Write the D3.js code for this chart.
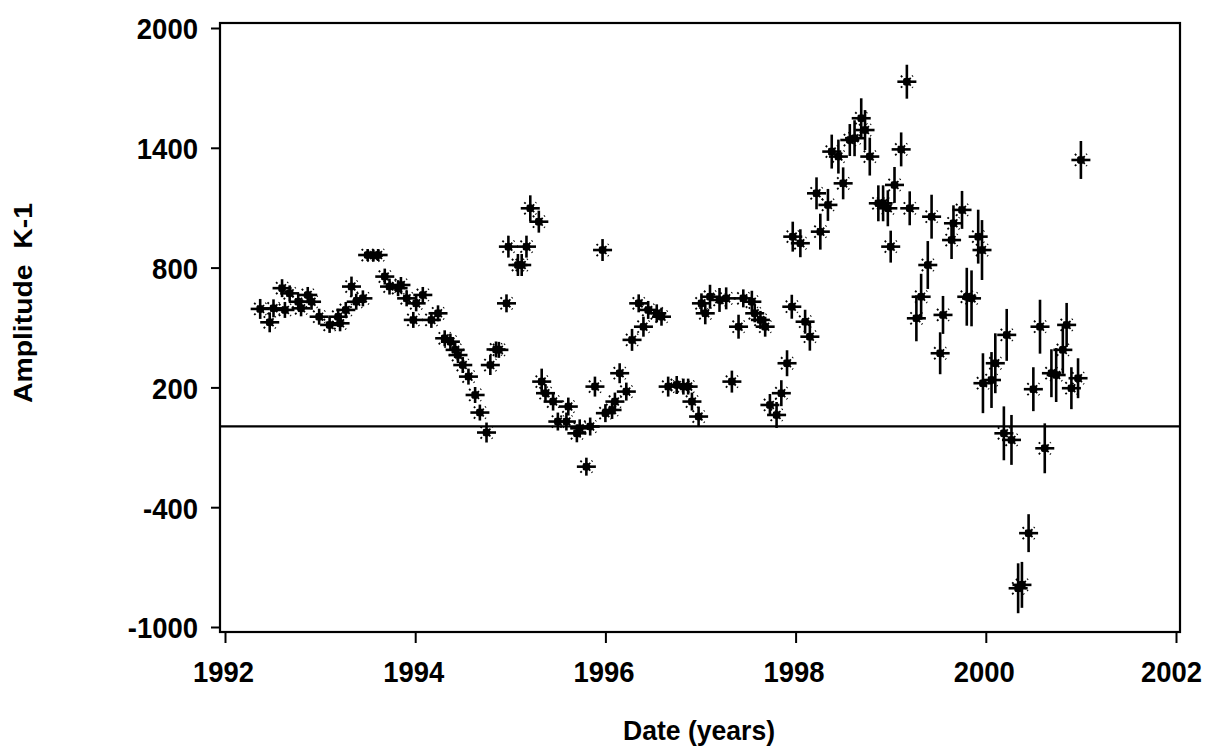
<!DOCTYPE html>
<html>
<head>
<meta charset="utf-8">
<script src="https://cdn.jsdelivr.net/npm/d3@7"></script>
<style>
  body { margin: 0; background: #fff; }
  svg { display: block; }
  text { font-family: "Liberation Sans", Arial, sans-serif; font-weight: bold; fill: #000; }
</style>
</head>
<body>
<svg id="chart"></svg>
<script>
// Observation dates (decimal years)
const years = [
  1992.37, 1992.47, 1992.51, 1992.60, 1992.63, 1992.68, 1992.77, 1992.80, 1992.87, 1992.91,
  1992.99, 1993.10, 1993.19, 1993.21, 1993.27, 1993.33, 1993.38, 1993.45, 1993.50, 1993.56,
  1993.61, 1993.68, 1993.73, 1993.82, 1993.85, 1993.91, 1993.98, 1994.01, 1994.08, 1994.17,
  1994.24, 1994.31, 1994.37, 1994.42, 1994.45, 1994.50, 1994.56, 1994.63, 1994.68, 1994.75,
  1994.79, 1994.85, 1994.88, 1994.96, 1994.98, 1995.08, 1995.12, 1995.17, 1995.21, 1995.30,
  1995.33, 1995.37, 1995.45, 1995.50, 1995.59, 1995.61, 1995.70, 1995.73, 1995.80, 1995.84,
  1995.89, 1995.97, 1996.00, 1996.07, 1996.10, 1996.15, 1996.22, 1996.28, 1996.35, 1996.40,
  1996.45, 1996.54, 1996.59, 1996.66, 1996.75, 1996.82, 1996.87, 1996.91, 1996.98, 1997.01,
  1997.05, 1997.10, 1997.20, 1997.27, 1997.33, 1997.40, 1997.45, 1997.54, 1997.57, 1997.63,
  1997.68, 1997.73, 1997.80, 1997.85, 1997.91, 1997.96, 1997.97, 1998.05, 1998.10, 1998.15,
  1998.22, 1998.26, 1998.34, 1998.38, 1998.45, 1998.50, 1998.57, 1998.62, 1998.69, 1998.73,
  1998.78, 1998.87, 1998.92, 1998.97, 1999.00, 1999.04, 1999.11, 1999.17, 1999.20, 1999.27,
  1999.32, 1999.39, 1999.43, 1999.52, 1999.55, 1999.64, 1999.66, 1999.75, 1999.80, 1999.85,
  1999.92, 1999.96, 1999.97, 2000.06, 2000.10, 2000.19, 2000.22, 2000.27, 2000.34, 2000.38,
  2000.45, 2000.50, 2000.57, 2000.62, 2000.69, 2000.74, 2000.81, 2000.85, 2000.90, 2000.97,
  2001.00
];

// Amplitude K-1
const amplitude = [
  593, 526, 596, 697, 588, 671, 629, 596, 663, 629,
  554, 513, 554, 521, 588, 705, 629, 646, 863, 860,
  863, 755, 705, 697, 713, 646, 538, 621, 663, 538,
  571, 446, 429, 388, 362, 312, 254, 162, 74, -26,
  312, 390, 388, 621, 905, 813, 813, 905, 1097, 1030,
  229, 171, 129, 29, 29, 104, -30, -5, -197, 4,
  204, 888, 71, 87, 129, 271, 179, 438, 621, 504,
  588, 571, 554, 204, 212, 204, 204, 129, 54, 621,
  571, 654, 638, 646, 229, 504, 646, 629, 571, 538,
  504, 112, 62, 171, 321, 604, 955, 922, 529, 454,
  1172, 980, 1114, 1381, 1356, 1222, 1439, 1448, 1548, 1489,
  1356, 1122, 1122, 1097, 905, 1214, 1392, 1731, 1097, 546,
  654, 813, 1055, 371, 563, 938, 1022, 1089, 654, 646,
  955, 888, 221, 237, 321, -30, 463, -63, -806, -789,
  -530, 191, 504, -105, 271, 262, 388, 513, 196, 246,
  1339
];

// vertical error bar half-lengths
const ampErr = [
  50, 50, 45, 45, 40, 40, 40, 40, 40, 40,
  40, 40, 40, 40, 40, 50, 40, 40, 30, 30,
  30, 40, 40, 40, 40, 40, 40, 40, 40, 40,
  40, 40, 40, 40, 40, 40, 40, 40, 40, 50,
  50, 40, 40, 45, 55, 55, 55, 55, 65, 55,
  65, 45, 45, 45, 45, 45, 45, 45, 45, 45,
  50, 55, 45, 45, 45, 50, 45, 55, 45, 50,
  45, 45, 45, 50, 45, 40, 40, 45, 50, 50,
  55, 60, 60, 55, 55, 60, 45, 55, 45, 45,
  50, 55, 65, 65, 65, 60, 75, 70, 60, 70,
  80, 90, 80, 85, 85, 80, 80, 90, 100, 100,
  95, 90, 90, 90, 80, 90, 85, 85, 85, 115,
  115, 120, 110, 105, 95, 95, 90, 95, 145, 140,
  135, 150, 150, 140, 150, 135, 130, 125, 125, 115,
  95, 110, 135, 125, 120, 135, 120, 110, 105, 100,
  95
];

const yearErr = 0.1;

const xTicks = [1992, 1994, 1996, 1998, 2000, 2002];
const yTicks = [-1000, -400, 200, 800, 1400, 2000];

const width = 1209, height = 747;

const svg = d3.select("#chart")
  .attr("width", width)
  .attr("height", height);

const x = d3.scaleLinear().domain([1992, 2002]).range([225, 1176]);
const y = d3.scaleLinear().domain([-1000, 2000]).range([627, 28]);

// frame
svg.append("rect")
  .attr("x", 220).attr("y", 23)
  .attr("width", 960).attr("height", 609)
  .attr("fill", "none")
  .attr("stroke", "#000")
  .attr("stroke-width", 2.2);

// zero line
svg.append("line")
  .attr("x1", 220).attr("x2", 1180)
  .attr("y1", y(0) - 1).attr("y2", y(0) - 1)
  .attr("stroke", "#000")
  .attr("stroke-width", 2.2);

// x axis
const xAxis = svg.append("g")
  .attr("transform", "translate(0,632)")
  .call(d3.axisBottom(x).tickValues(xTicks).tickSize(11).tickFormat(d => String(d)));
xAxis.select(".domain").remove();
xAxis.selectAll(".tick line").attr("stroke", "#000").attr("stroke-width", 2);
xAxis.selectAll(".tick text")
  .attr("y", 50).attr("dy", 0)
  .attr("x", d => d === 2002 ? -5 : -2)
  .style("font-size", "29px")
  .style("font-family", "Liberation Sans, Arial, sans-serif")
  .style("font-weight", "bold")
  .attr("textLength", 61)
  .attr("lengthAdjust", "spacingAndGlyphs");

// y axis
const yAxis = svg.append("g")
  .attr("transform", "translate(220,0)")
  .call(d3.axisLeft(y).tickValues(yTicks).tickSize(9).tickFormat(d => String(d)));
yAxis.select(".domain").remove();
yAxis.selectAll(".tick line").attr("stroke", "#000").attr("stroke-width", 2);
yAxis.selectAll(".tick text")
  .attr("x", -22).attr("dy", "0.36em")
  .style("font-size", "30px")
  .style("font-family", "Liberation Sans, Arial, sans-serif")
  .style("font-weight", "bold")
  .attr("textLength", d => (String(d).replace("-", "").length * 15.3) + (d < 0 ? 9 : 0))
  .attr("lengthAdjust", "spacingAndGlyphs");

// axis titles
svg.append("text")
  .attr("x", 699).attr("y", 740)
  .attr("text-anchor", "middle")
  .style("font-size", "27px")
  .attr("textLength", 152)
  .attr("lengthAdjust", "spacingAndGlyphs")
  .text("Date (years)");

svg.append("text")
  .attr("transform", "translate(32,303) rotate(-90)")
  .attr("text-anchor", "middle")
  .style("font-size", "26px")
  .attr("textLength", 200)
  .attr("lengthAdjust", "spacingAndGlyphs")
  .attr("xml:space", "preserve")
  .text("Amplitude  K-1");

// data points with error bars
const points = years.map((t, i) => ({ t, v: amplitude[i], e: ampErr[i] }));

const g = svg.append("g").attr("stroke", "#000");

const pt = g.selectAll("g.pt")
  .data(points)
  .enter().append("g")
  .attr("class", "pt");

pt.append("line")
  .attr("x1", d => x(d.t - yearErr)).attr("x2", d => x(d.t + yearErr))
  .attr("y1", d => y(d.v)).attr("y2", d => y(d.v))
  .attr("stroke-width", 2.6);

pt.append("line")
  .attr("x1", d => x(d.t)).attr("x2", d => x(d.t))
  .attr("y1", d => y(d.v - d.e)).attr("y2", d => y(d.v + d.e))
  .attr("stroke-width", 2.6);

// asterisk diagonals
pt.append("path")
  .attr("d", d => {
    const cx = x(d.t), cy = y(d.v), r = 6;
    return `M${cx - r},${cy - r}L${cx + r},${cy + r}M${cx - r},${cy + r}L${cx + r},${cy - r}`;
  })
  .attr("stroke-width", 1.8)
  .attr("stroke-dasharray", "2,2");

pt.append("circle")
  .attr("cx", d => x(d.t)).attr("cy", d => y(d.v))
  .attr("r", 4)
  .attr("fill", "#000")
  .attr("stroke", "none");
</script>
</body>
</html>
